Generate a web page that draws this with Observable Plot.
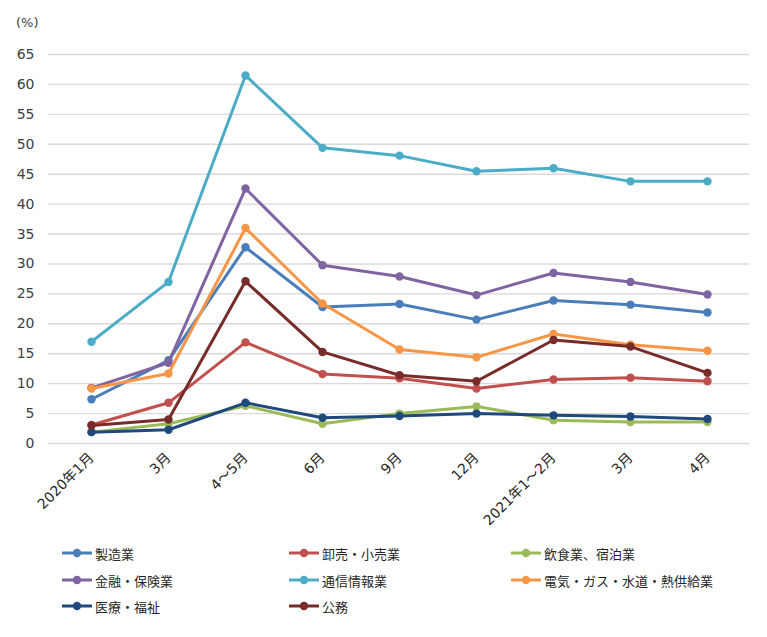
<!DOCTYPE html>
<html>
<head>
<meta charset="utf-8">
<script src="https://cdn.jsdelivr.net/npm/d3@7"></script>
<script src="https://cdn.jsdelivr.net/npm/@observablehq/plot@0.6"></script>
<style>
  body { margin: 0; background: #fff; font-family: "Noto Sans CJK JP", "Noto Sans", sans-serif; }
  #wrap { position: relative; width: 767px; height: 637px; }
  #unit { position: absolute; left: 16px; top: 15px; font-size: 13px; color: #404040; font-family: "DejaVu Sans", sans-serif; }
  .leg { position: absolute; display: flex; align-items: center; font-size: 13px; color: #262626; white-space: nowrap; }
  .leg svg { margin-right: 3px; }
</style>
</head>
<body>
<div id="wrap">
  <div id="chart"></div>
  <div id="unit">(%)</div>
</div>
<script>
const categories = ["2020年1月", "3月", "4～5月", "6月", "9月", "12月", "2021年1～2月", "3月 ", "4月"];
const seriesNames = ["製造業", "卸売・小売業", "飲食業、宿泊業", "金融・保険業", "通信情報業", "電気・ガス・水道・熱供給業", "医療・福祉", "公務"];
const seriesColors = ["#4a7ebb", "#c0504d", "#9bbb59", "#8064a2", "#4bacc6", "#f79646", "#1f497d", "#772c2a"];
const manufacturing = [7.4, 13.9, 32.8, 22.8, 23.3, 20.7, 23.9, 23.2, 21.9];
const wholesaleRetail = [3.1, 6.8, 16.9, 11.6, 10.9, 9.2, 10.7, 11.0, 10.4];
const foodLodging = [1.9, 3.3, 6.3, 3.3, 5.0, 6.2, 3.9, 3.6, 3.6];
const financeInsurance = [9.3, 13.5, 42.6, 29.8, 27.9, 24.8, 28.5, 27.0, 24.9];
const infoComm = [17.0, 27.0, 61.5, 49.4, 48.1, 45.5, 46.0, 43.8, 43.8];
const utilities = [9.2, 11.7, 36.0, 23.4, 15.7, 14.4, 18.3, 16.5, 15.5];
const medicalWelfare = [1.9, 2.3, 6.8, 4.3, 4.6, 5.0, 4.7, 4.5, 4.1];
const publicService = [3.0, 4.0, 27.1, 15.3, 11.4, 10.4, 17.3, 16.2, 11.8];
const yTicks = [0, 5, 10, 15, 20, 25, 30, 35, 40, 45, 50, 55, 60, 65];

const seriesValues = [manufacturing, wholesaleRetail, foodLodging, financeInsurance, infoComm, utilities, medicalWelfare, publicService];
const data = [];
seriesNames.forEach((s, i) => {
  categories.forEach((c, j) => data.push({series: s, order: i, cat: c, value: seriesValues[i][j]}));
});

const axisFont = "'DejaVu Sans', 'Noto Sans CJK JP', sans-serif";
const marks = [
  Plot.gridY(yTicks, {stroke: "#d9d9d9", strokeOpacity: 1, strokeWidth: 1.4}),
  Plot.axisY(yTicks, {tickSize: 0, tickPadding: 14, fontSize: 14, fontFamily: axisFont, color: "#404040", label: null}),
  Plot.axisX({tickSize: 0, tickRotate: -45, tickPadding: 12, fontSize: 14, fontFamily: axisFont, color: "#262626", label: null,
              tickFormat: d => d.trim()})
];
seriesNames.forEach((s, i) => {
  const sub = data.filter(d => d.series === s);
  marks.push(Plot.line(sub, {x: "cat", y: "value", stroke: seriesColors[i], strokeWidth: 3, strokeLinejoin: "round", strokeLinecap: "round"}));
  marks.push(Plot.dot(sub, {x: "cat", y: "value", fill: seriesColors[i], r: 4.2, stroke: "none"}));
});

const chart = Plot.plot({
  width: 767,
  height: 530,
  marginLeft: 48,
  marginRight: 18,
  marginTop: 54,
  marginBottom: 87,
  style: {fontFamily: axisFont, background: "#fff"},
  x: {type: "point", domain: categories, padding: 0.5},
  y: {domain: [0, 65]},
  marks
});
document.getElementById("chart").appendChild(chart);

// Legend
const legPos = [[62, 553], [289, 553], [511, 553], [62, 580], [289, 580], [511, 580], [62, 606], [289, 606]];
const wrap = document.getElementById("wrap");
seriesNames.forEach((s, i) => {
  const el = document.createElement("div");
  el.className = "leg";
  el.style.left = legPos[i][0] + "px";
  el.style.top = (legPos[i][1] - 10) + "px";
  el.innerHTML = `<svg width="30" height="20"><line x1="1" y1="10" x2="29" y2="10" stroke="${seriesColors[i]}" stroke-width="3" stroke-linecap="round"/><circle cx="15" cy="10" r="4.2" fill="${seriesColors[i]}"/></svg><span></span>`;
  el.querySelector("span").textContent = s;
  wrap.appendChild(el);
});
</script>
</body>
</html>
